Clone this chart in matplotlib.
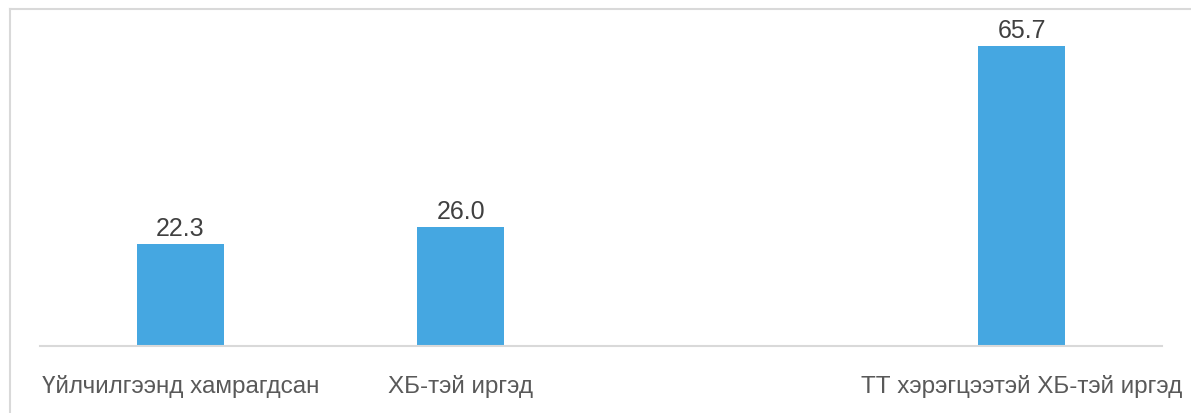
import matplotlib
matplotlib.use("Agg")
import matplotlib.pyplot as plt
from matplotlib.lines import Line2D

categories = ["Үйлчилгээнд хамрагдсан", "ХБ-тэй иргэд", "", "ТТ хэрэгцээтэй ХБ-тэй иргэд"]
values = [22.3, 26.0, None, 65.7]

plt.rcParams['font.family'] = ['Liberation Sans Narrow', 'Liberation Sans', 'DejaVu Sans']

fig = plt.figure(figsize=(11.91, 4.14), dpi=100)
ax = fig.add_axes([40 / 1191, 67 / 414, 1122 / 1191, 337 / 414])

xs = [i for i, v in enumerate(values) if v is not None]
hs = [v for v in values if v is not None]
bars = ax.bar(xs, hs, width=0.31, color='#45A7E1')

for x, h in zip(xs, hs):
    ax.annotate(f"{h:.1f}", (x, h), xytext=(0, 3), textcoords='offset points',
                ha='center', va='bottom', fontsize=18, color='#404040')

ax.set_xlim(-0.5, 3.5)
ax.set_ylim(0, 73.8)
ax.set_xticks(range(len(categories)))
ax.set_xticklabels(categories, fontsize=17.5, color='#595959')
ax.tick_params(axis='x', length=0, pad=20)
ax.set_yticks([])
for s in ['top', 'right', 'left']:
    ax.spines[s].set_visible(False)
ax.spines['bottom'].set_color('#D9D9D9')
ax.spines['bottom'].set_linewidth(1.5)

# outer chart frame (only top and left visible in crop)
fig.add_artist(Line2D([10 / 1191, 10 / 1191], [0, 404 / 414], transform=fig.transFigure,
                      color='#D9D9D9', linewidth=1.5))
fig.add_artist(Line2D([10 / 1191, 1], [404 / 414, 404 / 414], transform=fig.transFigure,
                      color='#D9D9D9', linewidth=1.5))

fig.savefig("out.png", dpi=100)
